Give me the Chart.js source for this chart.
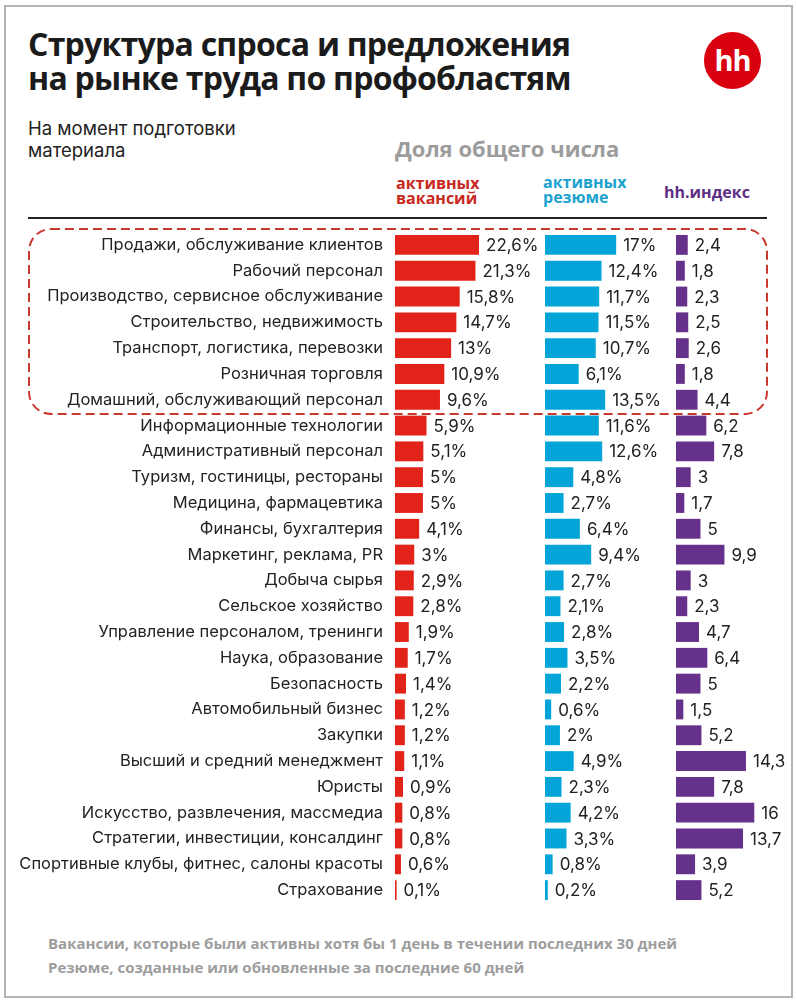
<!DOCTYPE html>
<html lang="ru">
<head>
<meta charset="utf-8">
<title>Структура спроса и предложения на рынке труда по профобластям</title>
<script src="https://cdn.jsdelivr.net/npm/chart.js@4.4.1/dist/chart.umd.min.js"></script>
<style>
  html, body { margin: 0; padding: 0; background: #fff; }
  #page { position: relative; width: 797px; height: 1000px; overflow: hidden; background: #fff; }
  .abs { position: absolute; }
  #frame { left: 4px; top: 5px; width: 785px; height: 989px; border: 2px solid #b4b4b4; }
  #title { left: 28px; top: 27px; font: 700 32px/34px 'Open Sans', sans-serif; color: #1b1b1b; letter-spacing: -0.75px; }
  #logo { left: 704px; top: 32px; width: 57px; height: 57px; border-radius: 50%; background: #d9000f;
          color: #fff; font: 700 29px/55px 'Open Sans', sans-serif; text-align: center; letter-spacing: -1px; }
  #subtitle { left: 28px; top: 117px; font: 400 18.5px/22px 'Inter', sans-serif; color: #222; }
  #share { left: 395px; top: 134px; font: 700 22px/28px 'Open Sans', sans-serif; color: #9c9c9c; }
  .leg { font: 700 16px/15px 'Open Sans', sans-serif; }
  #legVac { left: 396px; top: 176px; color: #c9281d; }
  #legRes { left: 543px; top: 175px; color: #1ba2cf; }
  #legIdx { left: 664px; top: 185px; color: #5d2e84; }
  #rule { left: 28px; top: 217px; width: 739px; height: 2px; background: #222; }
  #footer { left: 48px; top: 931px; font: 700 15px/24px 'Open Sans', sans-serif; color: #9d9d9d; }
  canvas { position: absolute; top: 232px; }
</style>
</head>
<body>
<div id="page">
  <div id="frame" class="abs"></div>
  <div id="title" class="abs">Структура спроса и предложения<br>на рынке труда по профобластям</div>
  <div id="logo" class="abs">hh</div>
  <div id="subtitle" class="abs">На момент подготовки<br>материала</div>
  <div id="share" class="abs">Доля общего числа</div>
  <div id="legVac" class="abs leg">активных<br>вакансий</div>
  <div id="legRes" class="abs leg">активных<br>резюме</div>
  <div id="legIdx" class="abs leg">hh.индекс</div>
  <div id="rule" class="abs"></div>
  <svg class="abs" style="left:0;top:0" width="797" height="1000">
    <rect x="29" y="229" width="738" height="185" rx="22" ry="22" fill="none"
          stroke="#c9392d" stroke-width="2" stroke-dasharray="9 5"/>
  </svg>
  <canvas id="vacChart" width="545" height="671" style="left:0"></canvas>
  <canvas id="resChart" width="130" height="671" style="left:545px"></canvas>
  <canvas id="idxChart" width="114" height="671" style="left:676px"></canvas>
  <div id="footer" class="abs">Вакансии, которые были активны хотя бы 1 день в течении последних 30 дней<br>Резюме, созданные или обновленные за последние 60 дней</div>
</div>
<script>
/* ---- data ---- */
const categories = [
  'Продажи, обслуживание клиентов',
  'Рабочий персонал',
  'Производство, сервисное обслуживание',
  'Строительство, недвижимость',
  'Транспорт, логистика, перевозки',
  'Розничная торговля',
  'Домашний, обслуживающий персонал',
  'Информационные технологии',
  'Административный персонал',
  'Туризм, гостиницы, рестораны',
  'Медицина, фармацевтика',
  'Финансы, бухгалтерия',
  'Маркетинг, реклама, PR',
  'Добыча сырья',
  'Сельское хозяйство',
  'Управление персоналом, тренинги',
  'Наука, образование',
  'Безопасность',
  'Автомобильный бизнес',
  'Закупки',
  'Высший и средний менеджмент',
  'Юристы',
  'Искусство, развлечения, массмедиа',
  'Стратегии, инвестиции, консалдинг',
  'Спортивные клубы, фитнес, салоны красоты',
  'Страхование'
];
// доля активных вакансий, %
const vacancyShare = [22.6, 21.3, 15.8, 14.7, 13, 10.9, 9.6, 5.9, 5.1, 5, 5, 4.1, 3, 2.9, 2.8, 1.9, 1.7, 1.4, 1.2, 1.2, 1.1, 0.9, 0.8, 0.8, 0.6, 0.1];
// доля активных резюме, %
const resumeShare = [17, 12.4, 11.7, 11.5, 10.7, 6.1, 13.5, 11.6, 12.6, 4.8, 2.7, 6.4, 9.4, 2.7, 2.1, 2.8, 3.5, 2.2, 0.6, 2, 4.9, 2.3, 4.2, 3.3, 0.8, 0.2];
// hh.индекс
const hhIndex = [2.4, 1.8, 2.3, 2.5, 2.6, 1.8, 4.4, 6.2, 7.8, 3, 1.7, 5, 9.9, 3, 2.3, 4.7, 6.4, 5, 1.5, 5.2, 14.3, 7.8, 16, 13.7, 3.9, 5.2];

const C = { red: '#e2231a', cyan: '#03a5d8', violet: '#66318a', text: '#222' };

/* ---- power scale: the infographic compresses long bars ---- */
class PowerScale extends Chart.LinearScale {
  static id = 'power';
  static defaults = Chart.LinearScale.defaults;
  getPixelForValue(value) {
    const e = this.options.exponent || 1;
    const t = Math.pow(Math.max(value, 0) / this.max, e);
    return this.getPixelForDecimal(t);
  }
  getValueForPixel(pixel) {
    const e = this.options.exponent || 1;
    return this.max * Math.pow(this.getDecimalForPixel(pixel), 1 / e);
  }
}
Chart.register(PowerScale);

/* ---- value labels at bar ends ---- */
const fmt = (v) => String(v).replace('.', ',');
const valueLabels = {
  id: 'valueLabels',
  afterDatasetsDraw(chart, args, opts) {
    const ctx = chart.ctx;
    const data = chart.data.datasets[0].data;
    ctx.save();
    ctx.font = opts.font;
    ctx.fillStyle = opts.color;
    ctx.textAlign = 'left';
    ctx.textBaseline = 'middle';
    chart.getDatasetMeta(0).data.forEach((bar, i) => {
      ctx.fillText(fmt(data[i]) + opts.suffix, bar.x + opts.gap, bar.y + 1);
    });
    ctx.restore();
  }
};

function barChart(id, values, color, xScale, suffix, showLabels) {
  return new Chart(document.getElementById(id), {
    type: 'bar',
    data: {
      labels: categories,
      datasets: [{ data: values, backgroundColor: color, borderWidth: 0,
                   barPercentage: 0.77, categoryPercentage: 1 }]
    },
    options: {
      indexAxis: 'y',
      responsive: false,
      animation: false,
      layout: { padding: 0 },
      scales: {
        x: Object.assign({ display: false, min: 0, bounds: 'data' }, xScale),
        y: {
          display: showLabels,
          offset: true,
          grid: { display: false, drawTicks: false },
          border: { display: false },
          ticks: { autoSkip: false, padding: 12, color: C.text,
                   font: { family: 'Inter', size: 16.5 } },
          afterFit: (s) => {
            if (!showLabels) return;
            s.width = 395;
            // rows must line up across the three canvases
            s.paddingTop = 0;
            s.paddingBottom = 0;
          }
        }
      },
      plugins: {
        legend: { display: false },
        tooltip: { enabled: false },
        valueLabels: { font: '17px Inter', color: C.text, gap: 7, suffix }
      }
    },
    plugins: [valueLabels]
  });
}

barChart('vacChart', vacancyShare, C.red, { type: 'power', exponent: 0.73, max: 50 }, '%', true);
barChart('resChart', resumeShare, C.cyan, { type: 'power', exponent: 0.73, max: 38.8 }, '%', false);
barChart('idxChart', hhIndex, C.violet, { type: 'linear', max: 23.3 }, '', false);
</script>
</body>
</html>
